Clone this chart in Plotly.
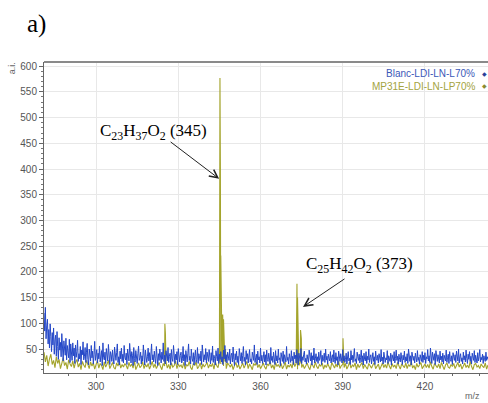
import plotly.graph_objects as go

# ---------------- data ----------------
mz_start = 281.0
blue_step = 0.25
olive_step = 0.5

blue_vals = [
    120, 85, 131, 70, 95, 108, 60, 88, 52, 99, 74, 45, 82, 58, 91, 40, 68, 77, 36, 84,
    55, 30, 72, 48, 63, 35, 80, 42, 27, 66, 51, 38, 71, 29, 57, 46, 33, 69, 24, 60,
    43, 28, 62, 37, 52, 22, 58, 34, 45, 67, 26, 41, 31, 55, 20, 48, 39, 64, 29, 36,
    53, 24, 44, 61, 30, 19, 50, 38, 27, 57, 33, 46, 21, 40, 65, 28, 35, 49, 23, 42,
    31, 56, 25, 38, 47, 18, 62, 34, 29, 44, 22, 51, 36, 27, 59, 32, 20, 45, 39, 26,
    48, 33, 21, 54, 37, 28, 43, 60, 24, 35, 19, 46, 31, 52, 26, 40, 23, 57, 34, 29,
    42, 20, 50, 36, 27, 61, 30, 23, 45, 38, 18, 53, 32, 25, 47, 35, 22, 41, 56, 28,
    33, 44, 21, 37, 26, 58, 31, 19, 48, 40, 24, 35, 52, 27, 43, 20, 36, 60, 29, 39,
    25, 46, 32, 22, 55, 34, 18, 41, 28, 50, 37, 23, 44, 30, 62, 26, 38, 21, 47, 33,
    27, 53, 24, 36, 42, 19, 49, 31, 26, 57, 35, 22, 40, 29, 45, 20, 51, 34, 25, 38,
    44, 23, 31, 55, 27, 39, 18, 47, 33, 25, 42, 60, 28, 36, 21, 50, 32, 26, 43, 19,
    37, 48, 24, 30, 53, 22, 41, 35, 27, 46, 20, 58, 33, 25, 39, 29, 51, 23, 44, 31,
    26, 49, 34, 21, 43, 28, 56, 24, 38, 32, 19, 47, 36, 27, 52, 22, 40, 30, 45, 25,
    35, 20, 48, 31, 57, 26, 39, 23, 44, 33, 28, 50, 21, 37, 42, 25, 54, 30, 18, 41,
    29, 46, 24, 36, 20, 51, 32, 27, 43, 22, 38, 55, 26, 34, 19, 47, 30, 41, 23, 35,
    49, 25, 31, 21, 44, 37, 28, 58, 24, 33, 40, 20, 46, 29, 35, 23, 52, 27, 38, 22,
    32, 45, 25, 39, 19, 48, 30, 26, 42, 34, 21, 53, 28, 36, 24, 44, 31, 20, 47, 27,
    37, 23, 50, 29, 33, 18, 43, 35, 26, 46, 22, 39, 30, 25, 55, 28, 34, 21, 41, 32,
    24, 47, 27, 36, 20, 44, 31, 38, 23, 49, 29, 19, 42, 33, 26, 51, 22, 35, 28, 40,
    46, 25, 32, 21, 39, 30, 24, 48, 34, 27, 43, 19, 37, 29, 52, 23, 31, 41, 26, 35,
    22, 44, 28, 33, 47, 20, 38, 26, 31, 42, 24, 50, 29, 36, 21, 40, 32, 27, 45, 23,
    34, 39, 25, 48, 30, 22, 43, 28, 35, 19, 46, 31, 26, 41, 33, 23, 49, 27, 37, 24,
    30, 42, 21, 36, 45, 27, 32, 20, 47, 29, 38, 24, 34, 51, 26, 31, 22, 44, 35, 28,
    40, 23, 33, 48, 25, 37, 19, 42, 30, 27, 45, 22, 36, 29, 50, 24, 34, 39, 21, 31,
    43, 26, 35, 20, 46, 32, 28, 38, 23, 41, 30, 25, 49, 27, 34, 21, 44, 36, 24, 33,
    29, 47, 22, 37, 31, 26, 42, 19, 39, 34, 27, 45, 23, 32, 48, 28, 36, 21, 40, 30,
    25, 43, 33, 20, 38, 29, 46, 24, 35, 27, 41, 22, 50, 31, 26, 37, 19, 44, 32, 28,
    36, 23, 42, 30, 25, 47, 28, 34, 21, 39, 33, 26, 45, 24, 38, 29, 43, 22, 35, 31,
    49, 27, 37, 24, 52, 30, 22, 44, 35, 28, 41, 20, 47, 33, 26, 39, 31, 23, 46, 29,
    36, 25, 42, 21, 38, 32, 27, 48, 24, 34, 40, 22, 45, 30, 26, 37, 20, 43, 33, 28,
    39, 24, 46, 31, 27, 50, 23, 35, 41, 26, 33, 21, 44, 29, 37, 25, 48, 32, 22, 40,
    30, 45, 26, 36, 21, 42, 33, 28, 47, 24, 38, 31, 23, 43, 27, 35, 49, 25, 34, 29,
    40, 22, 37, 31, 26, 44, 28, 35, 30,
]

olive_vals = [
    44, 25, 38, 17, 31, 40, 20, 28, 14, 35, 22, 30, 12, 26, 33, 18, 24, 11, 29, 21,
    16, 27, 13, 24, 30, 15, 22, 10, 26, 19, 14, 28, 21, 12, 25, 17, 23, 11, 20, 27,
    13, 22, 18, 10, 25, 15, 21, 28, 12, 19, 24, 14, 11, 23, 17, 26, 13, 20, 15, 22,
    18, 11, 24, 16, 21, 13, 27, 10, 19, 23, 14, 17, 25, 12, 20, 15, 22, 11, 18, 26,
    14, 21, 12, 19, 24, 16, 10, 22, 17, 25, 13, 20, 11, 23, 15, 18, 27, 12, 21, 16,
    19, 13, 24, 11, 20, 17, 26, 14, 10, 22, 18, 25, 12, 16, 23, 11, 21, 15, 19, 24,
    13, 20, 16, 22, 11, 25, 18, 14, 28, 21, 31, 17, 26, 12, 23, 19, 15, 21, 10, 18,
    24, 14, 20, 11, 17, 23, 13, 19, 26, 12, 21, 16, 10, 22, 18, 25, 14, 20, 12, 17,
    23, 15, 11, 21, 18, 26, 13, 19, 10, 24, 16, 20, 14, 22, 12, 17, 25, 11, 19, 15,
    21, 13, 27, 16, 22, 11, 18, 24, 14, 20, 12, 17, 23, 15, 10, 21, 19, 13, 25, 16,
    12, 20, 17, 23, 11, 19, 14, 22, 16, 10, 24, 18, 13, 21, 15, 26, 12, 18, 20, 14,
    22, 11, 17, 25, 13, 19, 16, 23, 10, 21, 14, 18, 24, 12, 20, 15, 11, 22, 17, 13,
    19, 24, 12, 16, 21, 10, 18, 23, 14, 20, 13, 25, 17, 11, 22, 15, 19, 12, 24, 16,
    11, 21, 17, 14, 23, 12, 20, 16, 26, 13, 18, 10, 22, 15, 19, 24, 12, 17, 21, 14,
    20, 13, 25, 16, 11, 22, 18, 14, 21, 12, 24, 17, 10, 19, 23, 15, 13, 20, 16, 22,
    12, 18, 24, 15, 21, 11, 17, 23, 14, 19, 13, 26, 16, 10, 20, 22, 15, 18, 12, 21,
    17, 14, 23, 11, 19,
]

peak_mz = [325.1, 325.3, 345.2, 345.35, 345.5, 346.2, 346.5, 347.2,
           373.3, 373.5, 374.6, 374.9, 390.1]
peak_int = [99, 80, 577, 405, 232, 117, 108, 50,
            177, 150, 87, 70, 71]

blue_name = "Blanc-LDI-LN-L70%"
olive_name = "MP31E-LDI-LN-LP70%"
label_345 = "C<sub>23</sub>H<sub>37</sub>O<sub>2</sub> (345)"
label_373 = "C<sub>25</sub>H<sub>42</sub>O<sub>2</sub> (373)"
x_ticks = [300, 330, 360, 390, 420]
y_ticks = [50, 100, 150, 200, 250, 300, 350, 400, 450, 500, 550, 600]

# ---------------- build ----------------
blue_x = [mz_start + blue_step * i for i in range(len(blue_vals))]
olive_x0 = [mz_start + olive_step * i for i in range(len(olive_vals))]
pts = sorted(list(zip(olive_x0, olive_vals)) + list(zip(peak_mz, peak_int)))
olive_x = [p[0] for p in pts]
olive_y = [p[1] for p in pts]

BLUE = "#2447c8"
OLIVE = "#a4a42c"

fig = go.Figure()
fig.add_trace(go.Scatter(x=olive_x, y=olive_y, mode="lines",
                         line=dict(color=OLIVE, width=1.1), name=olive_name,
                         showlegend=False))
fig.add_trace(go.Scatter(x=blue_x, y=blue_vals, mode="lines",
                         line=dict(color=BLUE, width=1), name=blue_name,
                         showlegend=False))

tickfont = dict(family="Liberation Sans, Arial", size=10, color="#555555")

fig.update_layout(
    width=488, height=403,
    margin=dict(l=44, r=0, t=62, b=30),
    paper_bgcolor="white", plot_bgcolor="white",
    xaxis=dict(range=[281, 443], tickvals=x_ticks, showgrid=True,
               gridcolor="#e8e8e8", gridwidth=1, zeroline=False,
               showline=True, linecolor="#666666", linewidth=1,
               ticks="outside", ticklen=4, tickcolor="#666666",
               minor=dict(dtick=10, tick0=280, ticks="outside", ticklen=2,
                          tickcolor="#666666", showgrid=False),
               tickfont=tickfont),
    yaxis=dict(range=[3.5, 608], tickvals=y_ticks, showgrid=True,
               gridcolor="#e8e8e8", gridwidth=1, zeroline=False,
               showline=True, linecolor="#666666", linewidth=1,
               ticks="outside", ticklen=4, tickcolor="#666666",
               minor=dict(dtick=10, tick0=0, ticks="outside", ticklen=2,
                          tickcolor="#777777", showgrid=False),
               tickfont=tickfont),
    showlegend=False,
)

# top frame line
fig.add_shape(type="line", xref="paper", yref="paper", x0=0, x1=1, y0=1, y1=1,
              line=dict(color="#8a8a8a", width=2))

serif = "Liberation Serif, Times New Roman, serif"
sans = "Liberation Sans, Arial"

anns = [
    dict(text="a)", xref="paper", yref="paper", x=-0.016, y=1.122,
         xanchor="center", yanchor="middle", showarrow=False,
         font=dict(family=serif, size=25, color="black")),
    dict(text="a.i.", xref="paper", yref="paper", x=-0.072, y=0.98,
         xanchor="center", yanchor="middle", showarrow=False, textangle=-90,
         font=dict(family=sans, size=9, color="#666666")),
    dict(text="m/z", xref="paper", yref="paper", x=0.966, y=-0.075,
         xanchor="center", yanchor="middle", showarrow=False,
         font=dict(family=sans, size=9, color="#666666")),
    dict(text=blue_name, xref="paper", yref="paper", x=0.976, y=0.963,
         xanchor="right", yanchor="middle", showarrow=False,
         font=dict(family=sans, size=10, color="#3a58b8")),
    dict(text="◆", xref="paper", yref="paper", x=0.992, y=0.963,
         xanchor="center", yanchor="middle", showarrow=False,
         font=dict(family=sans, size=6, color="#2a3f9a")),
    dict(text=olive_name, xref="paper", yref="paper", x=0.976, y=0.922,
         xanchor="right", yanchor="middle", showarrow=False,
         font=dict(family=sans, size=10, color="#a3a340")),
    dict(text="◆", xref="paper", yref="paper", x=0.992, y=0.922,
         xanchor="center", yanchor="middle", showarrow=False,
         font=dict(family=sans, size=6, color="#8a8a30")),
    dict(text=label_345, x=321.0, y=472, xref="x", yref="y",
         xanchor="center", yanchor="middle", showarrow=False,
         font=dict(family=serif, size=17, color="black")),
    dict(text=label_373, x=396.2, y=213, xref="x", yref="y",
         xanchor="center", yanchor="middle", showarrow=False,
         font=dict(family=serif, size=17, color="black")),
    dict(text="", x=344.9, y=381, xref="x", yref="y", axref="pixel", ayref="pixel",
         ax=-50, ay=-38, showarrow=True, arrowhead=5, arrowsize=1.6,
         arrowwidth=1, arrowcolor="#222222", standoff=0),
    dict(text="", x=375.5, y=132, xref="x", yref="y", axref="pixel", ayref="pixel",
         ax=43, ay=-29, showarrow=True, arrowhead=5, arrowsize=1.6,
         arrowwidth=1, arrowcolor="#222222", standoff=0),
]
fig.update_layout(annotations=anns)

fig.write_html("out.html")
